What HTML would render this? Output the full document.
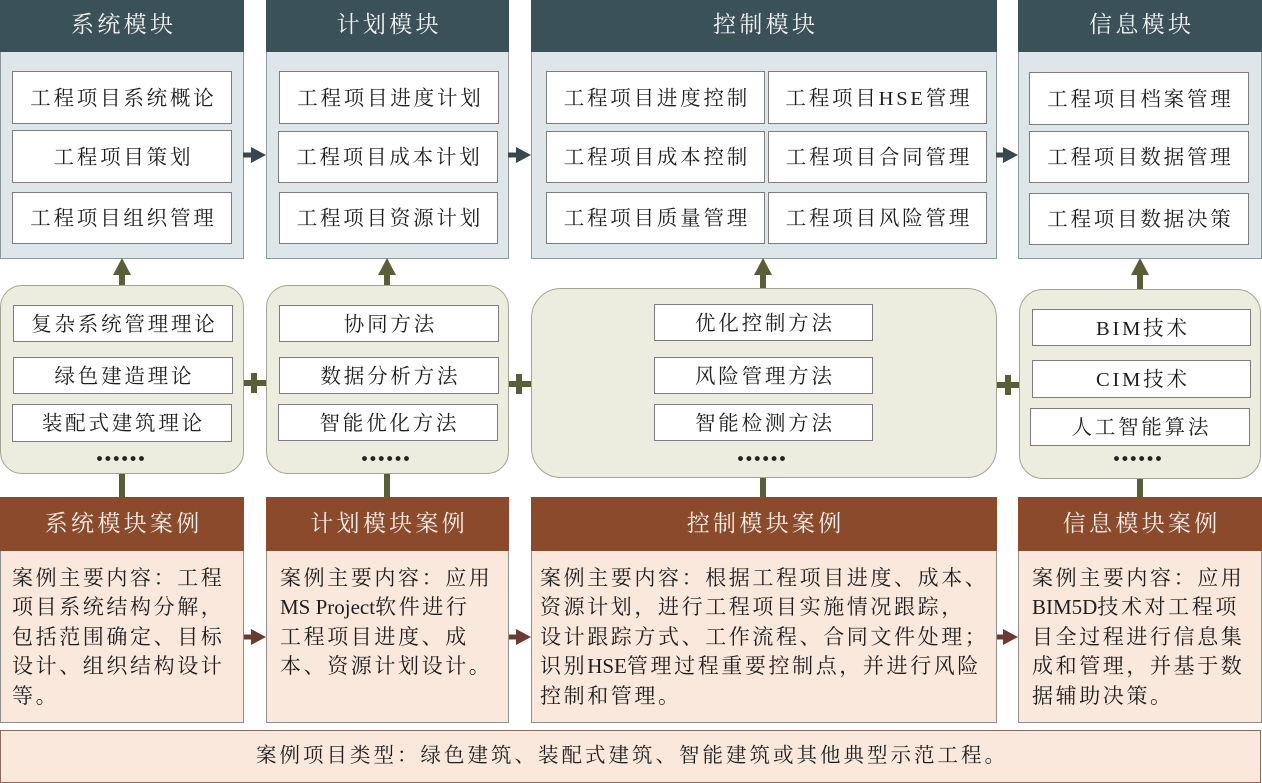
<!DOCTYPE html>
<html><head><meta charset="utf-8">
<style>
*{margin:0;padding:0;box-sizing:border-box}
body{width:1262px;height:783px;background:#fff;position:relative;overflow:hidden;font-family:"Liberation Serif","Noto Serif CJK SC",serif;color:#1e1e1e}
.a{position:absolute}
.panel{position:absolute;top:0;height:259px;background:#dfe6e9;border:1px solid #8e999d}
.ph{position:absolute;left:-1px;right:-1px;top:-1px;height:52px;background:#3b5158;color:#f2f2f2;font-size:23px;display:flex;align-items:center;justify-content:center;padding-bottom:8px}
.ph span,.ch span{letter-spacing:3.3px;margin-right:-3.3px}
.box{position:absolute;background:#fff;border:1px solid #7d7d7d;display:flex;align-items:center;justify-content:center;font-size:20.5px;white-space:nowrap;padding-bottom:4px}
.box span{letter-spacing:2.8px;margin-right:-2.8px}
.rb{position:absolute;background:#ecedde;border:1px solid #a3a592}
.dots{position:absolute;height:5px;width:50px;background:radial-gradient(circle at 2.5px 2.5px,#222 2.2px,transparent 2.6px);background-size:8.4px 5px}
.case{position:absolute;top:497px;height:226px;background:#fbe8dc;border:1px solid #8f8f8f}
.ch{position:absolute;left:-1px;right:-1px;top:-1px;height:54px;background:#8a4a2b;color:#f7efe9;font-size:23px;display:flex;align-items:center;justify-content:center;padding-bottom:6px}
.ct{position:absolute;top:66px;font-size:21px;line-height:29.4px;letter-spacing:2.6px;white-space:nowrap}
</style></head><body>

<div class="panel" style="left:0;width:244px"><div class="ph"><span>系统模块</span></div></div>
<div class="panel" style="left:266px;width:243px"><div class="ph"><span>计划模块</span></div></div>
<div class="panel" style="left:531px;width:466px"><div class="ph"><span>控制模块</span></div></div>
<div class="panel" style="left:1018px;width:244px"><div class="ph"><span>信息模块</span></div></div>

<div class="box" style="left:12px;top:71px;width:220px;height:53px"><span>工程项目系统概论</span></div>
<div class="box" style="left:12px;top:130px;width:220px;height:53px"><span>工程项目策划</span></div>
<div class="box" style="left:12px;top:192px;width:220px;height:52px"><span>工程项目组织管理</span></div>

<div class="box" style="left:279px;top:71px;width:220px;height:53px"><span>工程项目进度计划</span></div>
<div class="box" style="left:278px;top:131px;width:220px;height:52px"><span>工程项目成本计划</span></div>
<div class="box" style="left:279px;top:192px;width:219px;height:52px"><span>工程项目资源计划</span></div>

<div class="box" style="left:546px;top:71px;width:219px;height:53px"><span>工程项目进度控制</span></div>
<div class="box" style="left:546px;top:131px;width:219px;height:52px"><span>工程项目成本控制</span></div>
<div class="box" style="left:546px;top:192px;width:219px;height:52px"><span>工程项目质量管理</span></div>
<div class="box" style="left:768px;top:71px;width:219px;height:53px"><span>工程项目HSE管理</span></div>
<div class="box" style="left:768px;top:131px;width:219px;height:52px"><span>工程项目合同管理</span></div>
<div class="box" style="left:768px;top:192px;width:219px;height:52px"><span>工程项目风险管理</span></div>

<div class="box" style="left:1029px;top:72px;width:220px;height:53px"><span>工程项目档案管理</span></div>
<div class="box" style="left:1029px;top:131px;width:220px;height:52px"><span>工程项目数据管理</span></div>
<div class="box" style="left:1029px;top:193px;width:220px;height:52px"><span>工程项目数据决策</span></div>

<svg class="a" style="left:0;top:0" width="1262" height="783">
 <g fill="#37474f">
  <rect x="243" y="152.5" width="10" height="5"/><polygon points="251,147 266,155 251,163"/>
  <rect x="508" y="152.5" width="10" height="5"/><polygon points="516,147 531,155 516,163"/>
  <rect x="996" y="152.5" width="8" height="5"/><polygon points="1003,147 1018,155 1003,163"/>
 </g>
 <g fill="#6b3a30">
  <rect x="243" y="634.5" width="10" height="5"/><polygon points="251,629 266,637 251,645"/>
  <rect x="508" y="634.5" width="10" height="5"/><polygon points="516,629 531,637 516,645"/>
  <rect x="996" y="634.5" width="8" height="5"/><polygon points="1003,629 1018,637 1003,645"/>
 </g>
 <g fill="#5a5e36">
  <rect x="119" y="273" width="6" height="13"/><polygon points="113,275 122,258 131,275"/>
  <rect x="384" y="273" width="6" height="13"/><polygon points="378,275 387,258 396,275"/>
  <rect x="760" y="273" width="6" height="16"/><polygon points="754,275 763,258 772,275"/>
  <rect x="1137" y="273" width="6" height="17"/><polygon points="1131,275 1140,258 1149,275"/>
  <rect x="119" y="472" width="6" height="26"/>
  <rect x="384" y="472" width="6" height="26"/>
  <rect x="760" y="476" width="6" height="22"/>
  <rect x="1137" y="477" width="6" height="21"/>
  <rect x="242" y="380" width="24" height="6"/><rect x="251" y="373" width="6" height="20"/>
  <rect x="507" y="381" width="24" height="6"/><rect x="516" y="374" width="6" height="20"/>
  <rect x="997" y="382" width="22" height="6"/><rect x="1005" y="375" width="6" height="20"/>
 </g>
</svg>

<div class="rb" style="left:0;top:285px;width:244px;height:189px;border-radius:22px"></div>
<div class="rb" style="left:266px;top:285px;width:243px;height:189px;border-radius:22px"></div>
<div class="rb" style="left:531px;top:288px;width:466px;height:190px;border-radius:30px"></div>
<div class="rb" style="left:1019px;top:289px;width:242px;height:190px;border-radius:24px"></div>

<div class="box" style="left:13px;top:305px;width:220px;height:37px"><span>复杂系统管理理论</span></div>
<div class="box" style="left:13px;top:357px;width:220px;height:37px"><span>绿色建造理论</span></div>
<div class="box" style="left:12px;top:404px;width:220px;height:38px"><span>装配式建筑理论</span></div>
<div class="dots" style="left:97px;top:456px"></div>

<div class="box" style="left:279px;top:305px;width:220px;height:37px"><span>协同方法</span></div>
<div class="box" style="left:279px;top:357px;width:220px;height:37px"><span>数据分析方法</span></div>
<div class="box" style="left:278px;top:404px;width:220px;height:37px"><span>智能优化方法</span></div>
<div class="dots" style="left:362px;top:456px"></div>

<div class="box" style="left:654px;top:304px;width:219px;height:37px"><span>优化控制方法</span></div>
<div class="box" style="left:654px;top:357px;width:219px;height:37px"><span>风险管理方法</span></div>
<div class="box" style="left:654px;top:404px;width:219px;height:37px"><span>智能检测方法</span></div>
<div class="dots" style="left:738px;top:456px"></div>

<div class="box" style="left:1032px;top:309px;width:219px;height:37px"><span>BIM技术</span></div>
<div class="box" style="left:1032px;top:360px;width:219px;height:38px"><span>CIM技术</span></div>
<div class="box" style="left:1030px;top:408px;width:220px;height:38px"><span>人工智能算法</span></div>
<div class="dots" style="left:1114px;top:456px"></div>

<div class="case" style="left:0;width:244px"><div class="ch"><span>系统模块案例</span></div>
 <div class="ct" style="left:11px">案例主要内容：工程<br>项目系统结构分解，<br>包括范围确定、目标<br>设计、组织结构设计<br>等。</div></div>
<div class="case" style="left:266px;width:243px"><div class="ch"><span>计划模块案例</span></div>
 <div class="ct" style="left:13px">案例主要内容：应用<br><span style="letter-spacing:0">MS Project</span>软件进行<br>工程项目进度、成<br>本、资源计划设计。</div></div>
<div class="case" style="left:531px;width:466px"><div class="ch"><span>控制模块案例</span></div>
 <div class="ct" style="left:8px">案例主要内容：根据工程项目进度、成本、<br>资源计划，进行工程项目实施情况跟踪，<br>设计跟踪方式、工作流程、合同文件处理；<br>识别<span style="letter-spacing:0">HSE</span>管理过程重要控制点，并进行风险<br>控制和管理。</div></div>
<div class="case" style="left:1018px;width:244px"><div class="ch"><span>信息模块案例</span></div>
 <div class="ct" style="left:13px">案例主要内容：应用<br><span style="letter-spacing:0">BIM5D</span>技术对工程项<br>目全过程进行信息集<br>成和管理，并基于数<br>据辅助决策。</div></div>

<div class="a" style="left:0;top:730px;width:1261px;height:53px;background:#fbe8dc;border:1px solid #8a6a5e;display:flex;align-items:center;justify-content:center;font-size:20.5px;white-space:nowrap;padding-bottom:7px"><span style="letter-spacing:3px;margin-right:-3px">案例项目类型：绿色建筑、装配式建筑、智能建筑或其他典型示范工程。</span></div>

</body></html>
